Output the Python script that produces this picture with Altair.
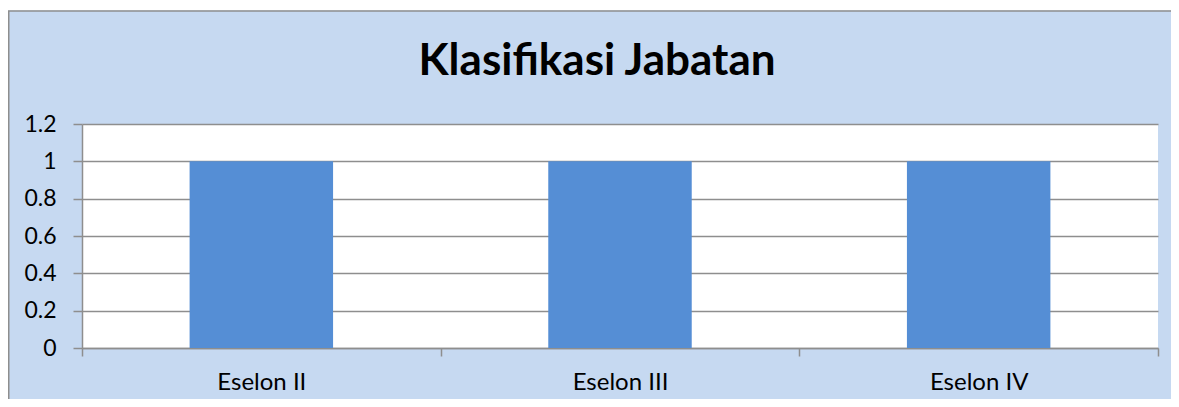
import altair as alt
import pandas as pd

categories = ["Eselon II", "Eselon III", "Eselon IV"]
values = [1, 1, 1]
y_ticks = [0, 0.2, 0.4, 0.6, 0.8, 1.0, 1.2]
title_text = "Klasifikasi Jabatan"

df = pd.DataFrame({"kategori": categories, "jumlah": values})

GRAY = "#8e8e8e"
FONT = "Lato"

bars = alt.Chart(df).mark_bar(color="#558ed5", width=alt.RelativeBandSize(0.4)).encode(
    x=alt.X(
        "kategori:N",
        sort=categories,
        title=None,
        scale=alt.Scale(paddingInner=0, paddingOuter=0),
        axis=alt.Axis(
            labelAngle=0, tickBand="extent", domainColor=GRAY, domainWidth=1.5,
            tickColor=GRAY, tickWidth=1.5, tickSize=8, labelPadding=14,
            labelFontSize=24, labelFont=FONT, labelColor="#000000", grid=False,
        ),
    ),
    y=alt.Y(
        "jumlah:Q",
        title=None,
        scale=alt.Scale(domain=[0, 1.2], nice=False),
        axis=alt.Axis(
            values=y_ticks, format="~g", grid=True, gridColor=GRAY, gridWidth=1.5,
            domainColor=GRAY, domainWidth=1.5, tickColor=GRAY, tickWidth=1.5,
            tickSize=9, labelPadding=17, labelFontSize=23, labelFont=FONT,
            labelColor="#000000",
        ),
    ),
)

dummy = pd.DataFrame({"d": [0]})

white_strip = alt.Chart(dummy).mark_rect(fill="white", strokeWidth=0).encode(
    x=alt.value(-74), x2=alt.value(2000), y=alt.value(-116), y2=alt.value(-113.5)
)

border = alt.Chart(dummy).mark_rect(fillOpacity=0, stroke=GRAY, strokeWidth=1.5).encode(
    x=alt.value(-73.25), x2=alt.value(2000), y=alt.value(-113), y2=alt.value(1000)
)

chart = alt.layer(bars, white_strip, border).properties(
    width=1076,
    height=224,
    title=alt.TitleParams(
        title_text, font=FONT, fontSize=44, fontWeight="bold", color="#000000",
        anchor="middle", frame="group", dx=-23, offset=-111, baseline="alphabetic",
    ),
    padding={"left": 74, "top": 116, "right": 13, "bottom": 51},
    autosize="none",
    background="#c6d9f1",
).configure_view(fill="white", strokeWidth=0)

chart.save("out.html", embed_options={"renderer": "svg", "actions": False})
